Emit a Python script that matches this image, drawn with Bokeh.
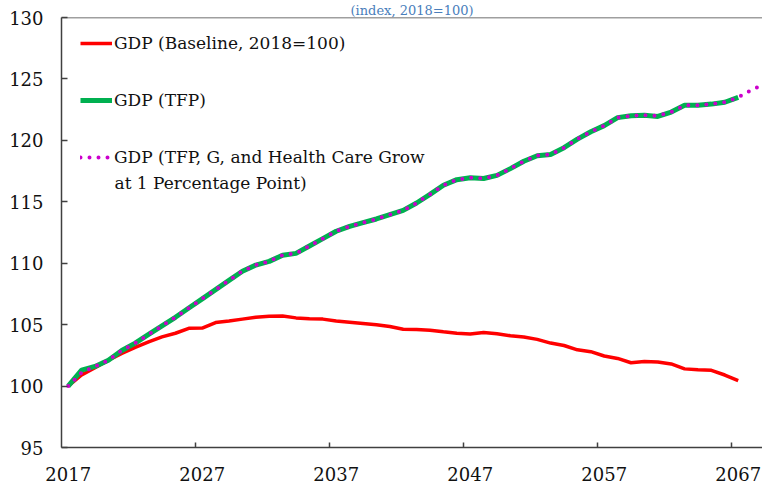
from bokeh.plotting import figure
from bokeh.models import Range1d, FixedTicker, Legend, LegendItem, Label, Span, Title
from bokeh.embed import file_html
from bokeh.resources import INLINE

# ---- data ----
years_base = list(range(2017, 2068))
gdp_baseline = [100.0, 100.9, 101.5, 102.1, 102.65, 103.15, 103.6, 104.0, 104.3, 104.7,
                104.72, 105.17, 105.3, 105.45, 105.6, 105.68, 105.7, 105.55, 105.48, 105.45,
                105.3, 105.2, 105.1, 105.0, 104.85, 104.62, 104.6, 104.55, 104.42, 104.3,
                104.23, 104.36, 104.25, 104.1, 104.0, 103.8, 103.5, 103.3, 102.95, 102.8,
                102.45, 102.25, 101.9, 102.0, 101.96, 101.8, 101.4, 101.33, 101.28, 100.9,
                100.44]

years_tfp = list(range(2017, 2068))
gdp_tfp = [100.0, 101.3, 101.6, 102.1, 102.9, 103.5, 104.2, 104.9, 105.6, 106.35,
           107.1, 107.85, 108.6, 109.35, 109.85, 110.15, 110.65, 110.8, 111.4, 112.0,
           112.6, 113.0, 113.3, 113.6, 113.95, 114.3, 114.9, 115.6, 116.35, 116.8,
           116.95, 116.9, 117.15, 117.7, 118.3, 118.75, 118.85, 119.4, 120.1, 120.7,
           121.2, 121.85, 122.0, 122.05, 121.95, 122.3, 122.85, 122.85, 122.95, 123.1,
           123.5]

years_hc = list(range(2017, 2070))
gdp_hc = [100.0, 101.1, 101.6, 102.1, 102.9, 103.5, 104.2, 104.9, 105.6, 106.35,
          107.1, 107.85, 108.6, 109.35, 109.85, 110.15, 110.65, 110.8, 111.4, 112.0,
          112.6, 113.0, 113.3, 113.6, 113.95, 114.3, 114.9, 115.6, 116.35, 116.8,
          116.95, 116.9, 117.15, 117.7, 118.3, 118.75, 118.85, 119.4, 120.1, 120.7,
          121.2, 121.85, 122.0, 122.05, 122.0, 122.3, 122.85, 122.85, 122.95, 123.1,
          123.5, 124.1, 124.6]

x_tick_labels = ["2017", "2027", "2037", "2047", "2057", "2067"]
y_ticks = [95, 100, 105, 110, 115, 120, 125, 130]
legend_labels = ["GDP (Baseline, 2018=100)", "GDP (TFP)",
                 "GDP (TFP, G, and Health Care Grow"]
legend_second_line = "at 1 Percentage Point)"
subtitle = "(index, 2018=100)"

FONT = "DejaVu Serif"
AXIS_COLOR = "#404040"
TEXT_COLOR = "#111111"

W, H = 762, 487
LEFT, TOP, BOTTOM = 61, 16, 40
x_start = 2016.5
px_per_year = 13.4
frame_w = W - LEFT
frame_h = H - TOP - BOTTOM
x_end = x_start + frame_w / px_per_year
px_per_unit = frame_h / 35.0

p = figure(width=W, height=H, output_backend="svg", toolbar_location=None,
           x_range=Range1d(x_start, x_end), y_range=Range1d(95, 130),
           min_border_left=LEFT, min_border_right=0, min_border_top=TOP,
           min_border_bottom=BOTTOM)
p.outline_line_color = None
p.xgrid.visible = False
p.ygrid.visible = False
p.background_fill_color = "white"
p.border_fill_color = "white"

# sub-title (small, in the thin top margin)
p.add_layout(Title(text=subtitle, align="center", offset=-10, standoff=0,
                   text_font=FONT, text_font_size="13px", text_font_style="normal",
                   text_color="#4A7EBB"), "above")

# x axis: labels at category centres, tick marks between categories
xt = [int(s) for s in x_tick_labels]
p.xaxis.ticker = FixedTicker(ticks=xt, minor_ticks=[v - 0.5 for v in xt[1:]])
p.xaxis.major_tick_line_color = None
p.xaxis.minor_tick_line_color = AXIS_COLOR
p.xaxis.minor_tick_line_width = 1.5
p.xaxis.minor_tick_in = 5
p.xaxis.minor_tick_out = 0
p.xaxis.major_label_standoff = 13

p.yaxis.ticker = FixedTicker(ticks=y_ticks, minor_ticks=[])
p.yaxis.major_tick_in = 6
p.yaxis.major_tick_out = 0
p.yaxis.major_tick_line_color = AXIS_COLOR
p.yaxis.major_tick_line_width = 1.5
p.yaxis.major_label_standoff = 18

for ax in (p.xaxis, p.yaxis):
    ax.axis_line_color = AXIS_COLOR
    ax.axis_line_width = 1.5
    ax.major_label_text_font = FONT
    ax.major_label_text_font_size = "18px"
    ax.major_label_text_color = TEXT_COLOR

p.add_layout(Span(location=130, dimension="width", line_color=AXIS_COLOR, line_width=1.5))

r_base = p.line(years_base, gdp_baseline, line_color="#FF0000", line_width=3.5)
r_tfp = p.line(years_tfp, gdp_tfp, line_color="#00B050", line_width=5)
r_hc = p.line(years_hc, gdp_hc, line_color="#CC00CC", line_width=4,
              line_dash="0 9", line_cap="round")

legend = Legend(items=[LegendItem(label=legend_labels[0], renderers=[r_base]),
                       LegendItem(label=legend_labels[1], renderers=[r_tfp]),
                       LegendItem(label=legend_labels[2], renderers=[r_hc])],
                location=(19, 278))
legend.border_line_color = None
legend.background_fill_alpha = 0
legend.margin = 0
legend.padding = 0
legend.glyph_width = 32
legend.glyph_height = 24
legend.label_height = 24
legend.spacing = 33
legend.label_standoff = 2
legend.label_text_font = FONT
legend.label_text_font_size = "17px"
legend.label_text_color = TEXT_COLOR
p.add_layout(legend)

p.add_layout(Label(x=x_start + (114 - LEFT) / px_per_year,
                   y=130 - (182 - TOP) / px_per_unit,
                   text=legend_second_line, text_font=FONT, text_font_size="17px",
                   text_color=TEXT_COLOR, text_baseline="middle", text_align="left"))

open("out.html", "w").write(file_html(p, INLINE))
